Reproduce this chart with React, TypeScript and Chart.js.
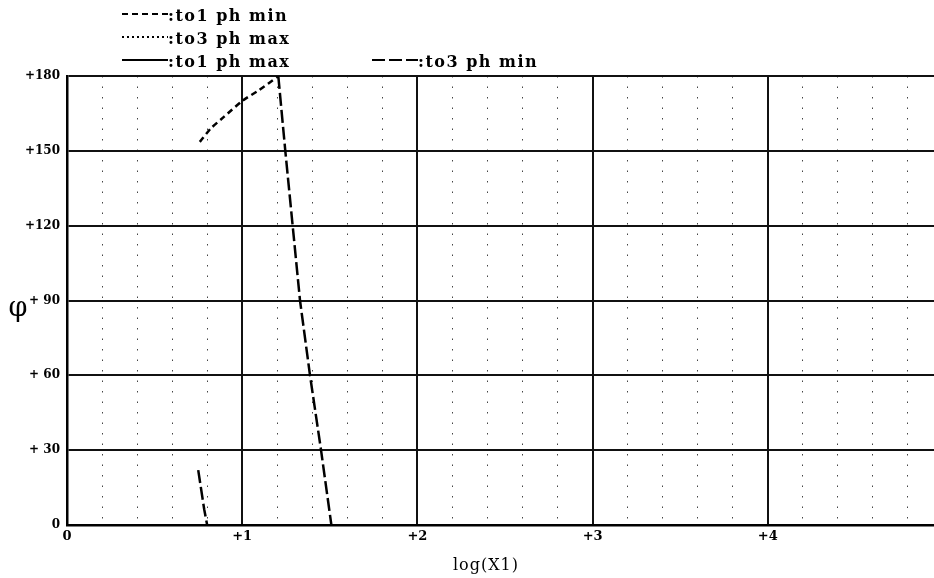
import React, { useEffect, useRef } from 'react';
import { Chart, registerables } from 'chart.js';

Chart.register(...registerables);

// ---- data ----
const seriesLabels = ['to1 ph min', 'to3 ph max', 'to1 ph max', 'to3 ph min'];

const to1PhMinX = [0.758, 0.821, 0.897, 1.002, 1.097, 1.202];
const to1PhMinY = [153.6, 159.0, 163.7, 170.1, 174.4, 179.7];

const to3PhMaxX: number[] = [];
const to3PhMaxY: number[] = [];

const to1PhMaxX: number[] = [];
const to1PhMaxY: number[] = [];

// null = break between the two visible branches (phase wrap)
const to3PhMinX = [0.749, 0.783, 0.8, 1.0, 1.206, 1.246, 1.288, 1.33, 1.387, 1.45, 1.509];
const to3PhMinY: (number | null)[] = [22, 6.3, 0, null, 180, 150, 120, 90, 60, 30, 0];

const xMin = 0;
const xMax = 5;
const xMajorStep = 1;
const xMinorStep = 0.2;
const yMin = 0;
const yMax = 180;
const yStep = 30;

const xTitle = 'log(X1)';
const yTitle = 'φ';

const pts = (xs: number[], ys: (number | null)[]) => xs.map((x, i) => ({ x, y: ys[i] }));

const SERIF = '"DejaVu Serif", "Liberation Serif", serif';

// legend layout (style only)
const legendSlots = [
  { x: 122, y: 17 },
  { x: 122, y: 40 },
  { x: 122, y: 63 },
  { x: 372, y: 63 },
];

const decorPlugin = {
  id: 'decor',
  afterDraw(chart: any) {
    const ctx = chart.ctx as CanvasRenderingContext2D;
    ctx.save();
    // legend
    chart.data.datasets.forEach((ds: any, i: number) => {
      const slot = legendSlots[i];
      if (!slot) return;
      ctx.save();
      ctx.strokeStyle = '#000';
      ctx.lineWidth = 2;
      ctx.setLineDash(ds.borderDash || []);
      ctx.beginPath();
      ctx.moveTo(slot.x, slot.y - 3);
      ctx.lineTo(slot.x + 46, slot.y - 3);
      ctx.stroke();
      ctx.restore();
      ctx.fillStyle = '#000';
      ctx.font = `bold 16px ${SERIF}`;
      (ctx as any).letterSpacing = '1.5px';
      ctx.textAlign = 'left';
      ctx.textBaseline = 'middle';
      ctx.fillText(':' + ds.label, slot.x + 46, slot.y);
    });
    (ctx as any).letterSpacing = '0px';
    // axis titles
    const area = chart.chartArea;
    ctx.fillStyle = '#000';
    ctx.font = `27px ${SERIF}`;
    ctx.textAlign = 'center';
    ctx.textBaseline = 'middle';
    ctx.fillText(yTitle, 18, (area.top + area.bottom) / 2 + 8);
    ctx.font = `16px ${SERIF}`;
    (ctx as any).letterSpacing = '1px';
    ctx.fillText(xTitle, 486, 566);
    ctx.restore();
  },
};

export default function App() {
  const ref = useRef<HTMLCanvasElement | null>(null);

  useEffect(() => {
    if (!ref.current) return;
    const chart = new Chart(ref.current, {
      type: 'line',
      data: {
        datasets: [
          {
            label: seriesLabels[0],
            data: pts(to1PhMinX, to1PhMinY),
            borderColor: '#000',
            borderWidth: 2.5,
            borderDash: [6, 4],
            pointRadius: 0,
            fill: false,
            tension: 0.2,
          },
          {
            label: seriesLabels[1],
            data: pts(to3PhMaxX, to3PhMaxY),
            borderColor: '#000',
            borderWidth: 2.5,
            borderDash: [2, 3],
            pointRadius: 0,
            fill: false,
          },
          {
            label: seriesLabels[2],
            data: pts(to1PhMaxX, to1PhMaxY),
            borderColor: '#000',
            borderWidth: 2.5,
            borderDash: [],
            pointRadius: 0,
            fill: false,
          },
          {
            label: seriesLabels[3],
            data: pts(to3PhMinX, to3PhMinY),
            borderColor: '#000',
            borderWidth: 2.5,
            borderDash: [13, 4],
            pointRadius: 0,
            fill: false,
            spanGaps: false,
            tension: 0,
          },
        ],
      } as any,
      options: {
        animation: false,
        responsive: false,
        maintainAspectRatio: false,
        layout: { padding: { top: 76, right: 47, left: 0, bottom: 0 } },
        plugins: {
          legend: { display: false },
          tooltip: { enabled: false },
          title: { display: false },
        },
        scales: {
          xMinor: {
            type: 'linear',
            position: 'bottom',
            min: xMin,
            max: xMax,
            ticks: { display: false, stepSize: xMinorStep },
            grid: { color: '#444', lineWidth: 1, drawTicks: false },
            border: { display: false, dash: [1.5, 9] },
            afterFit: (s: any) => {
              s.height = 0;
            },
          },
          x: {
            type: 'linear',
            position: 'bottom',
            min: xMin,
            max: xMax,
            ticks: {
              stepSize: xMajorStep,
              color: '#000',
              padding: 4,
              maxRotation: 0,
              font: { family: SERIF, size: 13, weight: 'bold' },
              callback: (v: any) => (Number(v) === 0 ? '0' : '+' + v),
            },
            grid: { color: '#111', lineWidth: 2, drawTicks: false },
            border: { display: true, color: '#000', width: 2.5 },
            afterFit: (s: any) => {
              s.height = 53;
            },
          },
          y: {
            type: 'linear',
            position: 'left',
            min: yMin,
            max: yMax,
            ticks: {
              stepSize: yStep,
              color: '#000',
              padding: 7,
              font: { family: SERIF, size: 12, weight: 'bold' },
              callback: (v: any) => {
                const n = Number(v);
                if (n === 0) return '0';
                return n < 100 ? '+ ' + n : '+' + n;
              },
            },
            grid: { color: '#111', lineWidth: 2, drawTicks: false },
            border: { display: true, color: '#000', width: 2.5 },
            afterFit: (s: any) => {
              s.width = 67;
            },
          },
        },
      } as any,
      plugins: [decorPlugin],
    });
    return () => chart.destroy();
  }, []);

  return (
    <div
      style={{
        position: 'fixed',
        left: 0,
        top: 0,
        width: 934,
        height: 578,
        overflow: 'hidden',
        background: '#fff',
      }}
    >
      <canvas ref={ref} width={990} height={578} style={{ display: 'block' }} />
    </div>
  );
}
